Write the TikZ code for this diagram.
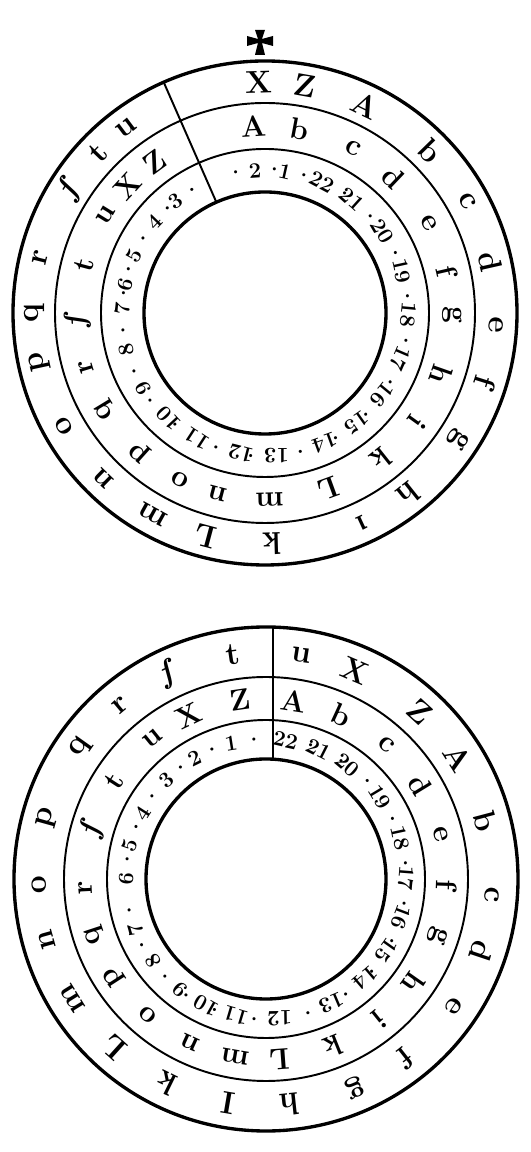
\documentclass[tikz,border=0pt]{standalone}
\newcommand{\rimtext}[6]{\draw(#2) ++(#4:#3) node[#1,rotate=#4-90] (#5) {#6};}
\newcommand{\longs}{\textit{ſ}}

\begin{document}
\begin{tikzpicture}[x=0.2mm,y=0.2mm,
  bigring/.style={line width=1.9pt},
  smallring/.style={line width=1.1pt},
  rimletter/.style={font=\fontsize{18}{18}\selectfont\bfseries,inner sep=0pt},
  midletter/.style={font=\fontsize{17}{17}\selectfont\bfseries,inner sep=0pt},
  rimnumber/.style={font=\fontsize{12.5}{12.5}\selectfont\bfseries,inner sep=0pt}]
\useasboundingbox (0,0) rectangle (530,1152);
\coordinate (C1) at (265,839);
\coordinate (C2) at (266,273);
\fill (258,1113) -- (255,1122) -- (265,1122) -- (262,1113) -- (273,1116) -- (273,1106) -- (262,1109) -- (265,1097) -- (255,1097) -- (258,1109) -- (247,1106) -- (247,1116) -- cycle;
\draw[bigring] (C1) circle (252);
\draw[smallring] (C1) circle (210);
\draw[smallring] (C1) circle (164);
\draw[bigring] (C1) circle (121);
\draw(C1) ++(113.7:121) coordinate (tcut1);
\draw(C1) ++(113.7:252) coordinate (tcut2);
\draw[smallring] (tcut1) -- (tcut2);
\rimtext{rimletter}{C1}{231}{91.6}{ta1}{X}
\rimtext{rimletter}{C1}{231}{79.9}{ta2}{Z}
\rimtext{rimletter}{C1}{231}{64.1}{ta3}{A}
\rimtext{rimletter}{C1}{231}{44.4}{ta4}{b}
\rimtext{rimletter}{C1}{231}{28.9}{ta5}{c}
\rimtext{rimletter}{C1}{231}{12.8}{ta6}{d}
\rimtext{rimletter}{C1}{231}{-3}{ta7}{e}
\rimtext{rimletter}{C1}{231}{-17.5}{ta8}{f}
\rimtext{rimletter}{C1}{231}{-33.2}{ta9}{g}
\rimtext{rimletter}{C1}{231}{-51.5}{ta10}{h}
\rimtext{rimletter}{C1}{231}{-65.2}{ta11}{ı}
\rimtext{rimletter}{C1}{231}{-88.3}{ta12}{k}
\rimtext{rimletter}{C1}{231}{-105}{ta13}{L}
\rimtext{rimletter}{C1}{231}{-119}{ta14}{m}
\rimtext{rimletter}{C1}{231}{-134.3}{ta15}{n}
\rimtext{rimletter}{C1}{231}{-150.6}{ta16}{o}
\rimtext{rimletter}{C1}{231}{-167.9}{ta17}{p}
\rimtext{rimletter}{C1}{231}{-180}{ta18}{q}
\rimtext{rimletter}{C1}{231}{-193.9}{ta19}{r}
\rimtext{rimletter}{C1}{231}{-212.5}{ta20}{\longs}
\rimtext{rimletter}{C1}{231}{-223.9}{ta21}{t}
\rimtext{rimletter}{C1}{231}{-233.2}{ta22}{u}
\rimtext{midletter}{C1}{187}{93.6}{tb1}{A}
\rimtext{midletter}{C1}{187}{79.2}{tb2}{b}
\rimtext{midletter}{C1}{187}{61.9}{tb3}{c}
\rimtext{midletter}{C1}{187}{46.5}{tb4}{d}
\rimtext{midletter}{C1}{187}{28.9}{tb5}{e}
\rimtext{midletter}{C1}{187}{13}{tb6}{f}
\rimtext{midletter}{C1}{187}{-0.6}{tb7}{g}
\rimtext{midletter}{C1}{187}{-19.3}{tb8}{h}
\rimtext{midletter}{C1}{187}{-35.8}{tb9}{i}
\rimtext{midletter}{C1}{187}{-51.5}{tb10}{k}
\rimtext{midletter}{C1}{187}{-70}{tb11}{L}
\rimtext{midletter}{C1}{187}{-88.5}{tb12}{m}
\rimtext{midletter}{C1}{187}{-104.7}{tb13}{n}
\rimtext{midletter}{C1}{187}{-116.9}{tb14}{o}
\rimtext{midletter}{C1}{187}{-131.9}{tb15}{p}
\rimtext{midletter}{C1}{187}{-148.7}{tb16}{q}
\rimtext{midletter}{C1}{187}{-163.3}{tb17}{r}
\rimtext{midletter}{C1}{187}{-177.8}{tb18}{\longs}
\rimtext{midletter}{C1}{187}{-195}{tb19}{t}
\rimtext{midletter}{C1}{187}{-211.7}{tb20}{u}
\rimtext{midletter}{C1}{187}{-222.8}{tb21}{X}
\rimtext{midletter}{C1}{187}{-233.7}{tb22}{Z}
\rimtext{rimnumber}{C1}{142.5}{94}{tc1}{·\,2\,·}
\rimtext{rimnumber}{C1}{142.5}{77.4}{tc2}{1\,·}
\rimtext{rimnumber}{C1}{142.5}{62}{tc3}{22\,·}
\rimtext{rimnumber}{C1}{142.5}{48}{tc4}{21\,·}
\rimtext{rimnumber}{C1}{142.5}{30.3}{tc5}{20\,·}
\rimtext{rimnumber}{C1}{142.5}{12.4}{tc6}{19\,·}
\rimtext{rimnumber}{C1}{142.5}{-5.3}{tc7}{18\,·}
\rimtext{rimnumber}{C1}{142.5}{-23.2}{tc8}{17\,·}
\rimtext{rimnumber}{C1}{142.5}{-39.6}{tc9}{16\,·}
\rimtext{rimnumber}{C1}{142.5}{-54.8}{tc10}{15\,·}
\rimtext{rimnumber}{C1}{142.5}{-70}{tc11}{14\,·}
\rimtext{rimnumber}{C1}{142.5}{-90}{tc12}{13\,·}
\rimtext{rimnumber}{C1}{142.5}{-104.3}{tc13}{12\,·}
\rimtext{rimnumber}{C1}{142.5}{-123}{tc14}{11\,·}
\rimtext{rimnumber}{C1}{142.5}{-137}{tc15}{10\,·}
\rimtext{rimnumber}{C1}{142.5}{-152.7}{tc16}{9\,·}
\rimtext{rimnumber}{C1}{142.5}{-169.7}{tc17}{8\,·}
\rimtext{rimnumber}{C1}{142.5}{-185.4}{tc18}{7·}
\rimtext{rimnumber}{C1}{142.5}{-195.5}{tc19}{6·}
\rimtext{rimnumber}{C1}{142.5}{-208.3}{tc20}{5\,·}
\rimtext{rimnumber}{C1}{142.5}{-224}{tc21}{4\,·}
\rimtext{rimnumber}{C1}{142.5}{-236.1}{tc22}{3\,·}
\draw[bigring] (C2) circle (252);
\draw[smallring] (C2) circle (202);
\draw[smallring] (C2) circle (159);
\draw[bigring] (C2) circle (120);
\draw(C2) ++(7,119.5) coordinate (bcut1);
\draw(C2) ++(7,251.5) coordinate (bcut2);
\draw[smallring] (bcut1) -- (bcut2);
\rimtext{rimletter}{C2}{227}{81}{ba1}{u}
\rimtext{rimletter}{C2}{227}{66.8}{ba2}{X}
\rimtext{rimletter}{C2}{227}{47.4}{ba3}{Z}
\rimtext{rimletter}{C2}{227}{32.3}{ba4}{A}
\rimtext{rimletter}{C2}{227}{14.8}{ba5}{b}
\rimtext{rimletter}{C2}{227}{-4}{ba6}{c}
\rimtext{rimletter}{C2}{227}{-18.5}{ba7}{d}
\rimtext{rimletter}{C2}{227}{-34.1}{ba8}{e}
\rimtext{rimletter}{C2}{227}{-51.8}{ba9}{f}
\rimtext{rimletter}{C2}{227}{-66.9}{ba10}{g}
\rimtext{rimletter}{C2}{227}{-84}{ba11}{h}
\rimtext{rimletter}{C2}{227}{-99.7}{ba12}{I}
\rimtext{rimletter}{C2}{227}{-116.1}{ba13}{k}
\rimtext{rimletter}{C2}{227}{-132.1}{ba14}{L}
\rimtext{rimletter}{C2}{227}{-148.2}{ba15}{m}
\rimtext{rimletter}{C2}{227}{-164.5}{ba16}{n}
\rimtext{rimletter}{C2}{227}{-178.5}{ba17}{o}
\rimtext{rimletter}{C2}{227}{-195.5}{ba18}{p}
\rimtext{rimletter}{C2}{227}{-215.3}{ba19}{q}
\rimtext{rimletter}{C2}{227}{-230}{ba20}{r}
\rimtext{rimletter}{C2}{227}{-244.6}{ba21}{\longs}
\rimtext{rimletter}{C2}{227}{-261.7}{ba22}{t}
\rimtext{midletter}{C2}{180.5}{81.1}{bb1}{A}
\rimtext{midletter}{C2}{180.5}{65.3}{bb2}{b}
\rimtext{midletter}{C2}{180.5}{48}{bb3}{c}
\rimtext{midletter}{C2}{180.5}{31.5}{bb4}{d}
\rimtext{midletter}{C2}{180.5}{14.2}{bb5}{e}
\rimtext{midletter}{C2}{180.5}{-1.9}{bb6}{f}
\rimtext{midletter}{C2}{180.5}{-18.2}{bb7}{g}
\rimtext{midletter}{C2}{180.5}{-35.1}{bb8}{h}
\rimtext{midletter}{C2}{180.5}{-51.2}{bb9}{i}
\rimtext{midletter}{C2}{180.5}{-68.1}{bb10}{k}
\rimtext{midletter}{C2}{180.5}{-85.8}{bb11}{L}
\rimtext{midletter}{C2}{180.5}{-99.8}{bb12}{m}
\rimtext{midletter}{C2}{180.5}{-114.7}{bb13}{n}
\rimtext{midletter}{C2}{180.5}{-131.1}{bb14}{o}
\rimtext{midletter}{C2}{180.5}{-147.2}{bb15}{p}
\rimtext{midletter}{C2}{180.5}{-161.7}{bb16}{q}
\rimtext{midletter}{C2}{180.5}{-177.2}{bb17}{r}
\rimtext{midletter}{C2}{180.5}{-196.1}{bb18}{\longs}
\rimtext{midletter}{C2}{180.5}{-212.8}{bb19}{t}
\rimtext{midletter}{C2}{180.5}{-231}{bb20}{u}
\rimtext{midletter}{C2}{180.5}{-244.6}{bb21}{X}
\rimtext{midletter}{C2}{180.5}{-261.8}{bb22}{Z}
\rimtext{rimnumber}{C2}{139.5}{77.3}{bc1}{22\,·}
\rimtext{rimnumber}{C2}{139.5}{63.1}{bc2}{21\,·}
\rimtext{rimnumber}{C2}{139.5}{49.7}{bc3}{20\,·}
\rimtext{rimnumber}{C2}{139.5}{31}{bc4}{19\,·}
\rimtext{rimnumber}{C2}{139.5}{12.2}{bc5}{18\,·}
\rimtext{rimnumber}{C2}{139.5}{-4.4}{bc6}{17\,·}
\rimtext{rimnumber}{C2}{139.5}{-20.5}{bc7}{16\,·}
\rimtext{rimnumber}{C2}{139.5}{-35.3}{bc8}{15\,·}
\rimtext{rimnumber}{C2}{139.5}{-49.5}{bc9}{14\,·}
\rimtext{rimnumber}{C2}{139.5}{-66.9}{bc10}{13\,·}
\rimtext{rimnumber}{C2}{139.5}{-89.1}{bc11}{12\,·}
\rimtext{rimnumber}{C2}{139.5}{-106.5}{bc12}{11·}
\rimtext{rimnumber}{C2}{139.5}{-119.2}{bc13}{10·}
\rimtext{rimnumber}{C2}{139.5}{-132.4}{bc14}{9\,·}
\rimtext{rimnumber}{C2}{139.5}{-148.7}{bc15}{8\,·}
\rimtext{rimnumber}{C2}{139.5}{-163.7}{bc16}{7\,·}
\rimtext{rimnumber}{C2}{139.5}{-184.9}{bc17}{6\,·}
\rimtext{rimnumber}{C2}{139.5}{-198.7}{bc18}{5\,·}
\rimtext{rimnumber}{C2}{139.5}{-212.7}{bc19}{4\,·}
\rimtext{rimnumber}{C2}{139.5}{-229.4}{bc20}{3\,·}
\rimtext{rimnumber}{C2}{139.5}{-244}{bc21}{2\,·}
\rimtext{rimnumber}{C2}{139.5}{-261}{bc22}{1\,\,·}
\end{tikzpicture}
\end{document}
